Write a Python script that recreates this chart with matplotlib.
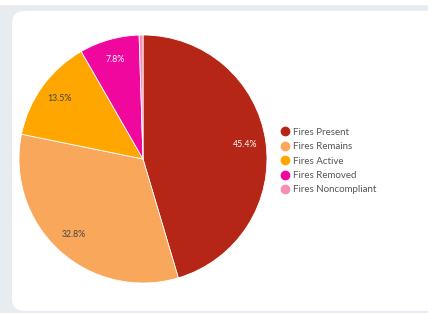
import matplotlib.pyplot as plt
from matplotlib.patches import FancyBboxPatch, Rectangle
from matplotlib.lines import Line2D

labels = ["Fires Present", "Fires Remains", "Fires Active", "Fires Removed", "Fires Noncompliant"]
values = [45.4, 32.8, 13.5, 7.8, 0.5]
colors = ["#b52616", "#f9a85b", "#ffa600", "#f0079e", "#f48fb6"]
label_colors = ["white", "#444444", "#444444", "white", "white"]

W, H = 428, 313
fig = plt.figure(figsize=(W / 100, H / 100), dpi=100)
fig.patch.set_facecolor("#e9ecef")

# white strip on top and the rounded white card
fig.patches.append(Rectangle((0, 1 - 5 / H), 1, 5 / H, transform=fig.transFigure,
                             facecolor="white", edgecolor="none", zorder=-2))
card = FancyBboxPatch((12 / W, 2 / H), 1, 1 - 11 / H - 2 / H,
                      boxstyle="round,pad=0,rounding_size=0.03",
                      transform=fig.transFigure, facecolor="white", edgecolor="none",
                      mutation_aspect=W / H, zorder=-2)
fig.patches.append(card)

# pie axes: centre (143,159) px, radius 124 px
cx, cy, r = 143, 159, 124
ax = fig.add_axes([(cx - r) / W, (H - cy - r) / H, 2 * r / W, 2 * r / H])
ax.set_zorder(2)
ax.patch.set_visible(False)

def pct_label(p):
    return f"{p:.1f}%" if p >= 1 else ""

wedges, texts, autotexts = ax.pie(values, colors=colors, startangle=90, counterclock=False,
                                  radius=1, autopct=pct_label, pctdistance=0.83,
                                  wedgeprops=dict(edgecolor="white", linewidth=0.6),
                                  textprops=dict(fontsize=6.3, family="Lato"))
for t, c in zip(autotexts, label_colors):
    t.set_color(c)
ax.set_xlim(-1, 1)
ax.set_ylim(-1, 1)
ax.axis("off")

handles = [Line2D([0], [0], marker="o", linestyle="none", markersize=6,
                  markerfacecolor=c, markeredgecolor=c) for c in colors]
leg = fig.legend(handles, labels, loc="upper left", bbox_to_anchor=(274 / W, 1 - 123 / H),
                 frameon=False, labelcolor="#555555", handletextpad=0.3,
                 labelspacing=0.55, borderpad=0, handlelength=1.2,
                 prop=dict(family="Lato", size=7))
leg.set_zorder(3)

fig.savefig("out.png", dpi=100, facecolor=fig.get_facecolor())
